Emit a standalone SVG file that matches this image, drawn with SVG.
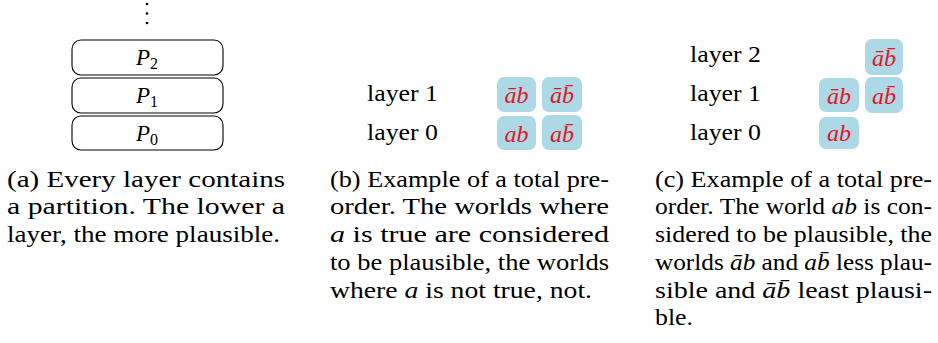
<svg xmlns="http://www.w3.org/2000/svg" width="938" height="343" viewBox="0 0 938 343" font-family="Liberation Serif">
<style>
text{fill:#000;}
.cap{font-size:24px;}
.lbl{font-size:24px;}
.m{font-style:italic;}
.w{font-size:24px;font-style:italic;fill:#e8141c;text-anchor:middle;}
.world{fill:#add8e6;stroke:none;}
.layer{fill:#fff;stroke:#000;stroke-width:1.1;}
.p{font-size:23px;font-style:italic;text-anchor:middle;}
.sub{font-size:16px;font-style:normal;}
</style>
<g id="connectors"></g>
<g id="dots">
<circle cx="147" cy="4" r="1.3"/>
<circle cx="147" cy="13.5" r="1.3"/>
<circle cx="147" cy="23" r="1.3"/>
</g>
<g id="P2"><rect class="layer" x="72" y="40" width="151" height="35" rx="9"/><text class="p" x="147" y="65">P<tspan class="sub" dy="4">2</tspan></text></g>
<g id="P1"><rect class="layer" x="72" y="78" width="151" height="35" rx="9"/><text class="p" x="147" y="103">P<tspan class="sub" dy="4">1</tspan></text></g>
<g id="P0"><rect class="layer" x="72" y="116" width="151" height="34" rx="9"/><text class="p" x="147" y="141">P<tspan class="sub" dy="4">0</tspan></text></g>
<g id="b-labels">
<text class="lbl" x="367" y="101" textLength="71" lengthAdjust="spacingAndGlyphs">layer 1</text>
<text class="lbl" x="367" y="140" textLength="71" lengthAdjust="spacingAndGlyphs">layer 0</text>
</g>
<g id="b-nab"><rect class="world" x="497" y="77" width="39" height="35" rx="7"/><text class="w" x="516.5" y="103">āb</text></g>
<g id="b-nanb"><rect class="world" x="542" y="77" width="40" height="35" rx="7"/><text class="w" x="562" y="103">āb̄</text></g>
<g id="b-ab"><rect class="world" x="497" y="116" width="39" height="34" rx="7"/><text class="w" x="516.5" y="142">ab</text></g>
<g id="b-anb"><rect class="world" x="542" y="115" width="40" height="35" rx="7"/><text class="w" x="562" y="142">ab̄</text></g>
<g id="c-labels">
<text class="lbl" x="690" y="62" textLength="71" lengthAdjust="spacingAndGlyphs">layer 2</text>
<text class="lbl" x="690" y="101" textLength="71" lengthAdjust="spacingAndGlyphs">layer 1</text>
<text class="lbl" x="690" y="140" textLength="71" lengthAdjust="spacingAndGlyphs">layer 0</text>
</g>
<g id="c-nanb"><rect class="world" x="865" y="39" width="38" height="36" rx="7"/><text class="w" x="884" y="66">āb̄</text></g>
<g id="c-nab"><rect class="world" x="819" y="78" width="40" height="34" rx="7"/><text class="w" x="839" y="104">āb</text></g>
<g id="c-anb"><rect class="world" x="865" y="77" width="38" height="36" rx="7"/><text class="w" x="884" y="104">ab̄</text></g>
<g id="c-ab"><rect class="world" x="819" y="117" width="40" height="32" rx="7"/><text class="w" x="839" y="141">ab</text></g>
<g id="caption-a">
<text class="cap" x="7" y="187" textLength="278" lengthAdjust="spacingAndGlyphs">(a) Every layer contains</text>
<text class="cap" x="7" y="214" textLength="278" lengthAdjust="spacingAndGlyphs">a partition. The lower a</text>
<text class="cap" x="7" y="242" textLength="273" lengthAdjust="spacingAndGlyphs">layer, the more plausible.</text>
</g>
<g id="caption-b">
<text class="cap" x="330" y="187" textLength="279" lengthAdjust="spacingAndGlyphs">(b) Example of a total pre-</text>
<text class="cap" x="330" y="214" textLength="279" lengthAdjust="spacingAndGlyphs">order. The worlds where</text>
<text class="cap" x="330" y="242" textLength="279" lengthAdjust="spacingAndGlyphs"><tspan class="m">a</tspan> is true are considered</text>
<text class="cap" x="330" y="270" textLength="279" lengthAdjust="spacingAndGlyphs">to be plausible, the worlds</text>
<text class="cap" x="330" y="298" textLength="262" lengthAdjust="spacingAndGlyphs">where <tspan class="m">a</tspan> is not true, not.</text>
</g>
<g id="caption-c">
<text class="cap" x="655" y="187" textLength="277" lengthAdjust="spacingAndGlyphs">(c) Example of a total pre-</text>
<text class="cap" x="655" y="214" textLength="277" lengthAdjust="spacingAndGlyphs">order. The world <tspan class="m">ab</tspan> is con-</text>
<text class="cap" x="655" y="242" textLength="277" lengthAdjust="spacingAndGlyphs">sidered to be plausible, the</text>
<text class="cap" x="655" y="270" textLength="277" lengthAdjust="spacingAndGlyphs">worlds <tspan class="m">āb</tspan> and <tspan class="m">ab̄</tspan> less plau-</text>
<text class="cap" x="655" y="298" textLength="277" lengthAdjust="spacingAndGlyphs">sible and <tspan class="m">āb̄</tspan> least plausi-</text>
<text class="cap" x="655" y="325" textLength="38" lengthAdjust="spacingAndGlyphs">ble.</text>
</g>
</svg>
